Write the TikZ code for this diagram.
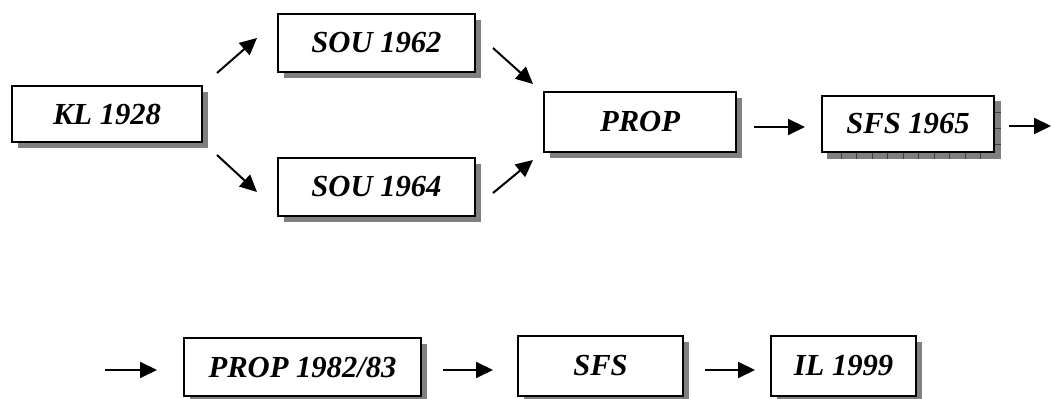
\documentclass[tikz,border=0pt]{standalone}
\usepackage{fontspec}
\setmainfont{Liberation Serif}
\usetikzlibrary{arrows.meta,shadows,backgrounds}

\tikzset{
  plainbox/.style={draw, line width=1pt, fill=white, inner sep=0pt,
    font=\fontsize{15.3}{18}\selectfont\bfseries\itshape},
  box/.style={plainbox,
    drop shadow={shadow xshift=3pt, shadow yshift=-3pt, opacity=1, fill=gray}},
  arr/.style={line width=1pt, -{Triangle[length=8.5pt,width=8pt]}}
}

\begin{document}
\begin{tikzpicture}[x=0.5pt, y=-0.5pt]
\useasboundingbox (0,0) rectangle (1051,399);

%Top row
\node[box, minimum width=95pt, minimum height=28pt] (KL) at (107,114) {KL 1928};
\node[box, minimum width=98.5pt, minimum height=29pt] (SOU62) at (376.5,43) {SOU 1962};
\node[box, minimum width=98.5pt, minimum height=29pt] (SOU64) at (376.5,187) {SOU 1964};
\node[box, minimum width=96pt, minimum height=30pt] (PROP) at (640,122) {PROP};
\node[plainbox, minimum width=86pt, minimum height=28pt] (SFS65) at (908,124) {SFS 1965};

%Shadow with grid for SFS 1965
\begin{scope}[on background layer]
\fill[gray] ([shift={(6,6)}]SFS65.south west) rectangle ([shift={(6,6)}]SFS65.north east);
\foreach \i in {0,...,9}
  \draw[black!75, line width=0.4pt] ([shift={(20+15.5*\i,0)}]SFS65.south west) -- ++(0,6);
\foreach \j in {1,2,3}
  \draw[black!75, line width=0.4pt] ([shift={(0,-57+16.3*\j)}]SFS65.south east) -- ++(6,0);
\end{scope}

%Bottom row
\node[box, minimum width=118.5pt, minimum height=29pt] (PROP83) at (302.5,367) {PROP 1982/83};
\node[box, minimum width=82.5pt, minimum height=30pt] (SFS) at (600.5,366) {SFS};
\node[box, minimum width=72.5pt, minimum height=30pt] (IL) at (843.5,366) {IL 1999};

\coordinate (cont) at (1051,126);
\coordinate (from) at (105,370);

%Arrows
\draw[arr] ([shift={(14,-41)}]KL.east) -- ([shift={(-20,-5)}]SOU62.west);
\draw[arr] ([shift={(14,41)}]KL.east) -- ([shift={(-20,5)}]SOU64.west);
\draw[arr] ([shift={(17,5)}]SOU62.east) -- ([shift={(-10,-38)}]PROP.west);
\draw[arr] ([shift={(17,6)}]SOU64.east) -- ([shift={(-10,38)}]PROP.west);
\draw[arr] ([shift={(17,5)}]PROP.east) -- ([shift={(-16,3)}]SFS65.west);
\draw[arr] ([shift={(14,2)}]SFS65.east) -- (cont);
\draw[arr] (from) -- ([shift={(-26,3)}]PROP83.west);
\draw[arr] ([shift={(21,3)}]PROP83.east) -- ([shift={(-24,4)}]SFS.west);
\draw[arr] ([shift={(21,4)}]SFS.east) -- ([shift={(-15,4)}]IL.west);

\end{tikzpicture}
\end{document}
